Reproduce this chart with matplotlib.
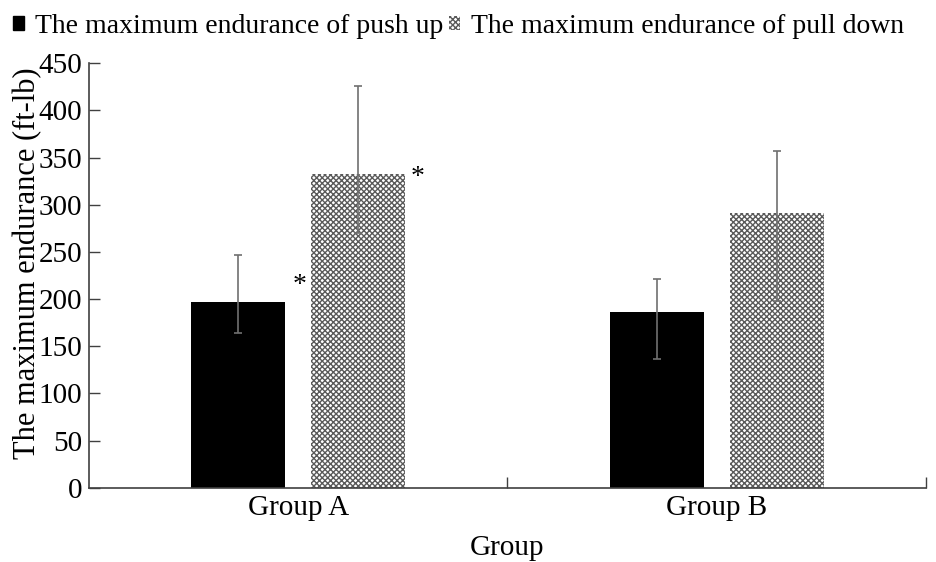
import numpy as np
import matplotlib.pyplot as plt
from matplotlib.patches import Patch

plt.rcParams['font.family'] = ['Liberation Serif', 'DejaVu Serif']
plt.rcParams['hatch.linewidth'] = 1.0

groups = ['Group A', 'Group B']
push_up = [197, 186]
push_lo = [164, 136]
push_hi = [247, 221]
pull_down = [333, 291]
pull_lo = [270, 198]
pull_hi = [426, 357]
sig_push = ['*', '']
sig_pull = ['*', '']

x = np.arange(len(groups))
w = 0.225
off = 0.143
fs = 21

fig = plt.figure(figsize=(9.36, 5.62), dpi=100)
ax = fig.add_axes([0.0951, 0.1322, 0.8942, 0.7552])

err_kw = dict(ecolor='#707070', elinewidth=1.2, capsize=3, capthick=1.2)
ax.bar(x - off, push_up, w, color='black', edgecolor='black', linewidth=0,
       yerr=[np.subtract(push_up, push_lo), np.subtract(push_hi, push_up)],
       error_kw=err_kw, zorder=2)
ax.bar(x + off, pull_down, w, color='white', edgecolor='#5a5a5a', linewidth=0,
       hatch='xxxxxx',
       yerr=[np.subtract(pull_down, pull_lo), np.subtract(pull_hi, pull_down)],
       error_kw=err_kw, zorder=2)

# significance marks at the top right of the bars
for i in range(len(groups)):
    if sig_push[i]:
        ax.text(x[i] - off + w / 2 + 0.033, push_up[i] + 17, sig_push[i],
                ha='center', va='center', fontsize=20)
    if sig_pull[i]:
        ax.text(x[i] + off + w / 2 + 0.03, pull_down[i] - 4, sig_pull[i],
                ha='center', va='center', fontsize=20)

ax.set_xlim(-0.5, 1.5)
ax.set_ylim(0, 450)
ax.set_yticks(range(0, 451, 50))
ax.set_xticks(x)
ax.set_xticklabels(groups)
ax.set_xticks([0.5, 1.5], minor=True)
ax.tick_params(axis='x', which='major', length=0, pad=5, labelsize=fs)
ax.tick_params(axis='x', which='minor', direction='in', length=8, width=1, color='#404040')
ax.tick_params(axis='y', direction='in', length=8, width=1, color='#404040',
               pad=5, labelsize=fs)

for s in ['top', 'right']:
    ax.spines[s].set_visible(False)
for s in ['left', 'bottom']:
    ax.spines[s].set_color('#404040')
    ax.spines[s].set_linewidth(1.2)

ax.set_xlabel('Group', fontsize=fs, labelpad=10)
ax.set_ylabel('The maximum endurance (ft-lb)', fontsize=22)
ax.yaxis.set_label_coords(-0.056, 0.528)

handles = [Patch(facecolor='black', edgecolor='black'),
           Patch(facecolor='white', edgecolor='#5a5a5a', linewidth=0, hatch='xxxxxx')]
fig.legend(handles, ['The maximum endurance of push up', 'The maximum endurance of pull down'],
           loc='upper center', bbox_to_anchor=(0.49, 1.01), ncol=2, frameon=False,
           fontsize=20, handlelength=0.4, handleheight=0.4, handletextpad=0.4,
           columnspacing=0.2, borderaxespad=0.3)

fig.savefig('out.png', dpi=100)
